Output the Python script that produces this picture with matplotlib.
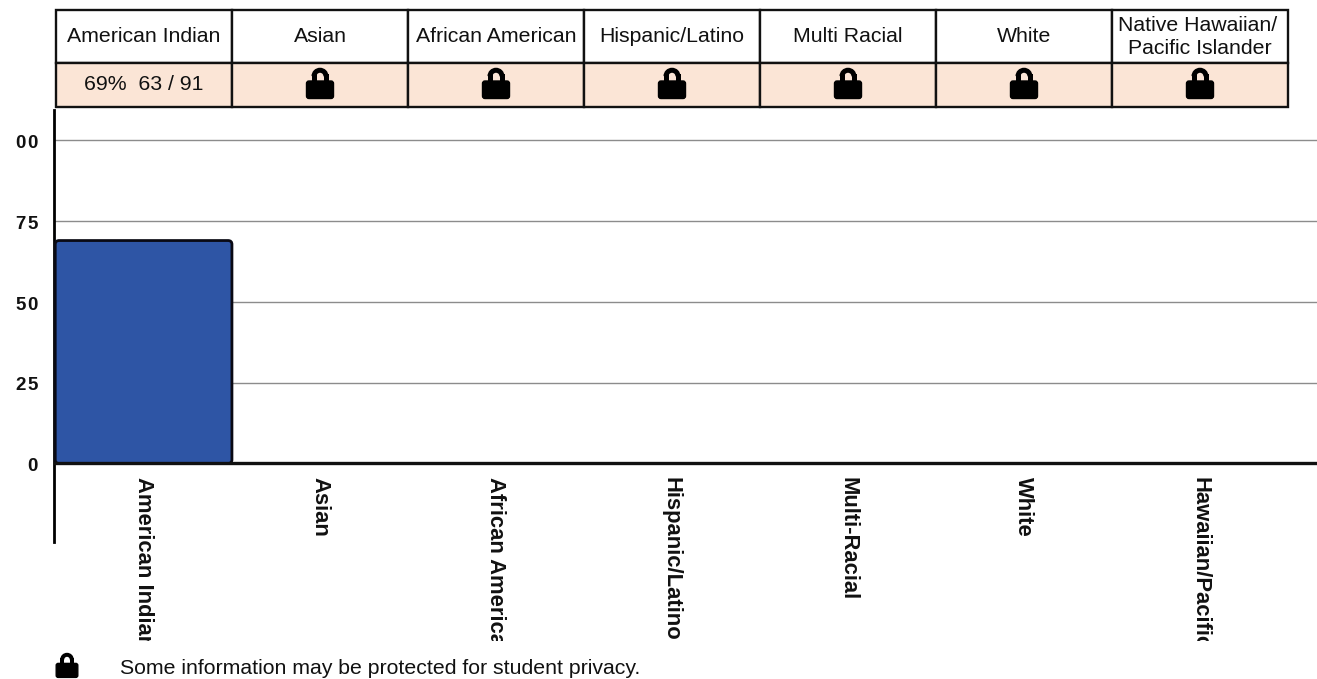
"""Percent by race/ethnicity bar chart with a small table on top."""
import matplotlib
matplotlib.use("Agg")
import matplotlib.pyplot as plt
from matplotlib.patches import Rectangle, FancyBboxPatch, Arc
from matplotlib.transforms import Bbox

W, H = 1317, 679
plt.rcParams['font.family'] = ['Liberation Sans', 'DejaVu Sans']

# data
header_labels = ["American Indian", "Asian", "African American", "Hispanic/Latino",
                 "Multi Racial", "White", "Native Hawaiian/ \nPacific Islander"]
header_values = ["69%  63 / 91", None, None, None, None, None, None]
axis_labels = ["American Indian", "Asian", "African American", "Hispanic/Latino",
               "Multi-Racial", "White", "Hawaiian/Pacific"]
percents = [69]
y_ticks = [0, 25, 50, 75, 100]
y_tick_labels = ["0", "25", "50", "75", "00"]
footnote = "Some information may be protected for student privacy."


def spaced(s):
    # the tick numbers have letter spacing on the page
    return "\u200a".join(s)


def lock(a, cx, top, k=1.0):
    a.add_patch(FancyBboxPatch((cx - 13.5*k, top + 13*k), 27*k, 17.5*k,
                               boxstyle="round,pad=0,rounding_size=%f" % (2.5*k),
                               fc="black", ec="black", lw=1))
    a.add_patch(Arc((cx, top + 8.25*k), 12*k, 12*k, theta1=180, theta2=360,
                    color="black", lw=3.6*k))
    a.plot([cx - 6*k, cx - 6*k], [top + 8.25*k, top + 15*k], color="black", lw=3.6*k)
    a.plot([cx + 6*k, cx + 6*k], [top + 8.25*k, top + 15*k], color="black", lw=3.6*k)


fig = plt.figure(figsize=(W/100, H/100), dpi=100)

# main chart, placed so that 0 and 100 land on the gridlines of the page
ax = fig.add_axes([54/W, 1 - 542/H, (W - 54)/W, (542 - 110)/H])
ax.set_xlim(-0.511, 6.665)
ax.set_ylim(-24.3, 109.4)
bars = ax.bar(range(len(percents)), percents, width=1.0)
for b in bars:
    # same rectangle, but with the small rounded corners of the page
    b.set_visible(False)
    ax.add_patch(FancyBboxPatch((b.get_x() - 0.004, b.get_y()), b.get_width() + 0.004, b.get_height(),
                                boxstyle="round,pad=0,rounding_size=0.022",
                                mutation_aspect=54.5, fc="#2E55A5", ec="#0A0A14",
                                lw=2.0, zorder=3))
for t in y_ticks[1:]:
    ax.axhline(t, color="#8C8C8C", lw=1, zorder=1)
ax.axhline(0, color="#111111", lw=2.4, zorder=4)
for s in ["top", "right", "bottom"]:
    ax.spines[s].set_visible(False)
ax.spines["left"].set_linewidth(2)
ax.set_xticks([])
ax.set_yticks([])

# overlay in page pixels for the table and the clipped labels
ov = fig.add_axes([0, 0, 1, 1])
ov.set_xlim(0, W)
ov.set_ylim(H, 0)
ov.axis("off")
ov.patch.set_alpha(0)

slot = 176
x0 = 56
for i, lab in enumerate(header_labels):
    left = x0 + i*slot
    ov.add_patch(Rectangle((left, 10), slot, 53, fc="white", ec="#111111", lw=1.7))
    ov.add_patch(Rectangle((left, 63), slot, 44, fc="#FBE5D6", ec="#111111", lw=1.7))
    ov.text(left + slot/2, 37, lab, ha="center", va="center", fontsize=15.3,
            color="#111111", linespacing=1.3)
    if header_values[i] is None:
        lock(ov, left + slot/2, 68)
    else:
        ov.text(left + slot/2, 85, header_values[i], ha="center", va="center",
                fontsize=15.3, color="#111111")

# axis labels run downwards and the page cuts them off
clip = Bbox([[0, H - 641], [W, H - 470]])
for i, lab in enumerate(axis_labels):
    t = ov.text(x0 + i*slot + 87.5, 477, lab, rotation=-90, ha="center", va="top",
                fontsize=15.8, fontweight="bold", color="#111111")
    t.set_clip_box(clip)
    t.set_clip_on(True)

for v, lab in zip(y_ticks, y_tick_labels):
    ov.text(38, 463.5 - 3.23*v + 3, spaced(lab), ha="right", va="center", fontsize=13.5,
            fontweight="bold", color="#111111")

lock(ov, 67, 653, 0.8)
ov.text(120, 668.5, footnote, ha="left", va="center", fontsize=15.35, color="#111111")

fig.savefig("out.png", dpi=100)
